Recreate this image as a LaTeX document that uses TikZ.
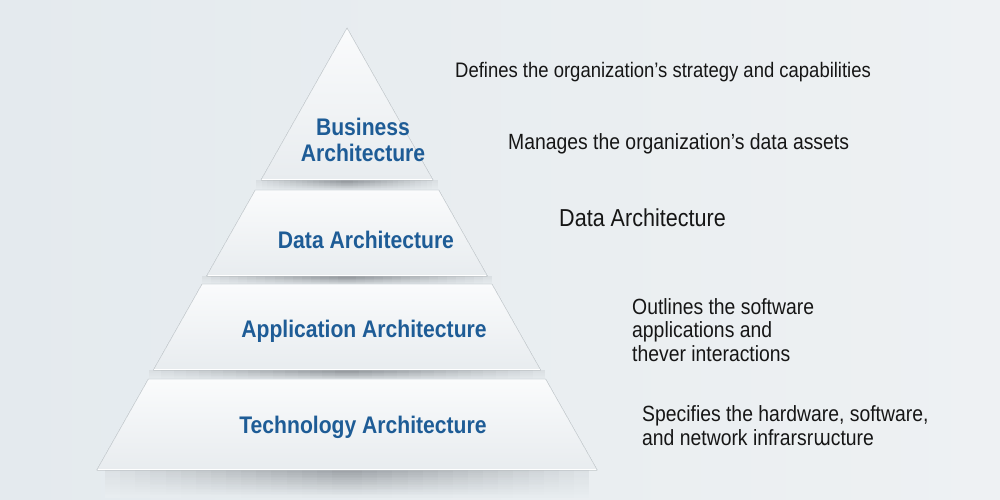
\documentclass[tikz,border=0pt]{standalone}
\usepackage{fontspec}
\setmainfont{Liberation Sans}[FakeStretch=0.88]
\newfontfamily\ipafont{DejaVu Sans}[FakeStretch=0.82]
\newcommand{\myapos}{\char"0027\relax}
\definecolor{bgL}{HTML}{E4EAEE}
\definecolor{bgR}{HTML}{EEF1F3}
\definecolor{bgM}{HTML}{E8EDF0}
\definecolor{tierTop}{HTML}{FAFBFC}
\definecolor{tierBot}{HTML}{E8ECEF}
\definecolor{tierEdge}{HTML}{D3D9DD}
\definecolor{shadowC}{HTML}{868B90}
\definecolor{labelBlue}{HTML}{1E5C96}
\definecolor{descC}{HTML}{161616}
\tikzset{
  tier/.style={top color=tierTop, bottom color=tierBot, draw=tierEdge, line width=0.6pt, line join=round},
  tierlabel/.style={text=labelBlue, font=\bfseries\fontsize{24}{26}\selectfont, align=center, inner sep=0pt},
  desc/.style={text=descC, font=\fontsize{22}{23.8}\selectfont, align=left, anchor=west, inner sep=0pt},
}
% \softshadow{x1}{x2}{ytop}{height}{max percent}
\newcommand{\softshadow}[5]{%
  \pgfmathsetmacro{\cx}{(#1+#2)/2}%
  \pgfmathsetmacro{\fw}{(#2-#1)/2}%
  \foreach \j in {0,...,15}{%
    \pgfmathsetmacro{\ya}{#3+\j*#4/16}%
    \pgfmathsetmacro{\yb}{#3+(\j+1)*#4/16+0.5}%
    \pgfmathsetmacro{\rowpc}{#5*(16-\j)/16}%
    \foreach \k in {1,...,16}{%
      \pgfmathsetmacro{\hw}{\fw*(17-\k)/16}%
      \pgfmathtruncatemacro{\pc}{\rowpc*(\k+2)/18}%
      \colorlet{shcell}{shadowC!\pc!bgM}%
      \fill[shcell] (\cx-\hw,\ya) rectangle (\cx+\hw,\yb);
    }%
  }%
}
\begin{document}
\begin{tikzpicture}[x=1pt,y=-1pt]
\useasboundingbox (0,0) rectangle (1000,500);
\fill[left color=bgL, right color=bgR] (0,0) rectangle (1000,500);

% shadows
\softshadow{256}{438}{180}{11}{95}
\softshadow{202}{492}{276}{10}{95}
\softshadow{149}{545}{370}{11}{95}
\softshadow{105}{589}{470}{27}{75}

% tiers
\filldraw[tier] (347,28) -- (433,180) -- (261,180) -- cycle;
\filldraw[tier] (255.3,190) -- (438.7,190) -- (487.4,276) -- (206.6,276) -- cycle;
\filldraw[tier] (202.1,284) -- (491.9,284) -- (540.6,370) -- (153.4,370) -- cycle;
\filldraw[tier] (148.4,379) -- (545.6,379) -- (597.2,470) -- (96.8,470) -- cycle;
\draw[white, line width=0.8pt] (262,179.3) -- (432,179.3);
\draw[white, line width=0.8pt] (207.6,275.3) -- (486.4,275.3);
\draw[white, line width=0.8pt] (154.4,369.3) -- (539.6,369.3);
\draw[white, line width=0.8pt] (97.8,469.3) -- (596.2,469.3);

% tier labels
\node[tierlabel] (business) at (363,140) {Business\\Architecture};
\node[tierlabel] (data) at (366,240) {Data Architecture};
\node[tierlabel] (application) at (364,331) {Application Architecture};
\node[tierlabel] (technology) at (363,427) {Technology Architecture};

% descriptions
\node[desc, font=\fontsize{21}{23}\selectfont] (d1) at (455,72) {Defines the organization\myapos s strategy and capabilities};
\node[desc] (d2) at (508,144) {Manages the organization\myapos s data assets};
\node[desc, font=\fontsize{24.5}{26}\selectfont] (d3) at (559,218) {Data Architecture};
\node[desc] (d4) at (632,330) {Outlines the software\\applications and\\thever interactions};
\node[desc] (d5) at (642,426) {Specifies the hardware, software,\\and network infrarsr{\ipafont ɯ}cture};
\end{tikzpicture}
\end{document}
